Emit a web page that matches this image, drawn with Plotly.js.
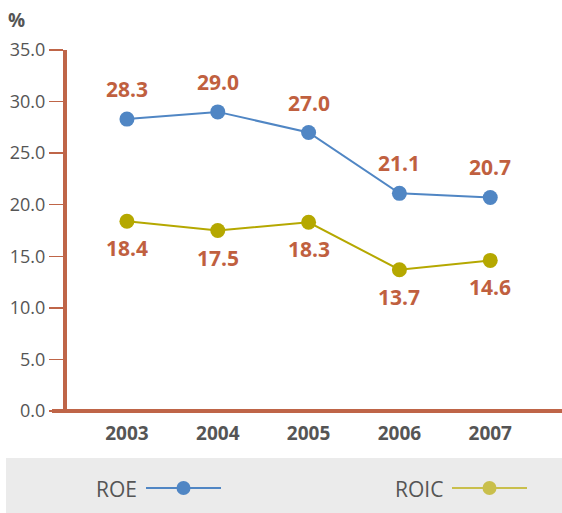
<!DOCTYPE html>
<html><head><meta charset="utf-8">
<script src="https://cdn.plot.ly/plotly-3.0.1.min.js"></script>
<style>html,body{margin:0;padding:0;background:#fff;}#chart{width:562px;height:513px;}</style>
</head><body><div id="chart"></div>
<script>
const years = ['2003','2004','2005','2006','2007'];
const roe = [28.3, 29.0, 27.0, 21.1, 20.7];
const roic = [18.4, 17.5, 18.3, 13.7, 14.6];
const yTicks = [0,5,10,15,20,25,30,35];
const yTickLabels = ['0.0','5.0','10.0','15.0','20.0','25.0','30.0','35.0'];

const axisColor = '#bf6548';
const labelColor = '#c0603f';
const roeColor = '#5086c4';
const roicColor = '#b5a800';
const font = '"Open Sans", "Noto Sans", sans-serif';

const W = 562, H = 513;
const ml = 67, mr = 0, mt = 50, mb = 102;
const pw = W - ml - mr, ph = H - mt - mb;
const px = v => (v - ml) / pw;            // pixel x -> paper
const py = v => (H - mb - v) / ph;        // pixel y -> paper

const traces = [
  {x: years, y: roe, type: 'scatter', mode: 'lines+markers', name: 'ROE',
   line: {color: roeColor, width: 2}, marker: {color: roeColor, size: 15}, showlegend: false, cliponaxis: false},
  {x: years, y: roic, type: 'scatter', mode: 'lines+markers', name: 'ROIC',
   line: {color: roicColor, width: 2}, marker: {color: roicColor, size: 15}, showlegend: false, cliponaxis: false}
];

const annotations = [];
years.forEach((yr, i) => {
  annotations.push({x: i, y: roe[i], xref: 'x', yref: 'y', text: '<b>' + roe[i].toFixed(1) + '</b>', showarrow: false, yshift: 30,
    font: {family: font, size: 21, color: labelColor}});
  annotations.push({x: i, y: roic[i], xref: 'x', yref: 'y', text: '<b>' + roic[i].toFixed(1) + '</b>', showarrow: false, yshift: -27,
    font: {family: font, size: 21, color: labelColor}});
});
annotations.push({x: px(6), y: py(20), xref: 'paper', yref: 'paper', text: '<b>%</b>', showarrow: false,
  xanchor: 'left', yanchor: 'middle', font: {family: font, size: 19, color: '#555'}});

const legendItems = [
  {name: 'ROE', color: roeColor, textRight: 139, lineL: 146, lineR: 221},
  {name: 'ROIC', color: '#c9bf4c', textRight: 445, lineL: 452, lineR: 527}
];
const shapes = [
  {type: 'rect', xref: 'paper', yref: 'paper', x0: px(6), x1: px(562), y0: py(458), y1: py(513),
   fillcolor: '#ebebeb', line: {width: 0}, layer: 'below'},
  {type: 'line', xref: 'paper', yref: 'paper', x0: px(52), x1: px(562), y0: py(411), y1: py(411),
   line: {color: axisColor, width: 4}}
];
legendItems.forEach(it => {
  shapes.push({type: 'line', xref: 'paper', yref: 'paper', x0: px(it.lineL), x1: px(it.lineR), y0: py(488), y1: py(488),
    line: {color: it.color, width: 2}});
  const cx = (it.lineL + it.lineR) / 2;
  shapes.push({type: 'circle', xref: 'paper', yref: 'paper', x0: px(cx - 7), x1: px(cx + 7), y0: py(481), y1: py(495),
    fillcolor: it.color, line: {width: 0}});
  annotations.push({x: px(it.textRight), y: py(489), xref: 'paper', yref: 'paper', text: it.name, showarrow: false,
    xanchor: 'right', yanchor: 'middle', font: {family: font, size: 21, color: '#555'}});
});

const layout = {
  width: W, height: H,
  margin: {l: ml, r: mr, t: mt, b: mb, pad: 0},
  paper_bgcolor: '#fff', plot_bgcolor: '#fff',
  showlegend: false,
  xaxis: {type: 'category', range: [-0.66, 4.79], showgrid: false, zeroline: false, showline: false,
    ticks: '', tickfont: {family: font, size: 19, color: '#555', weight: 'bold'}, ticklabelstandoff: 9, fixedrange: true},
  yaxis: {range: [0, 35], tickvals: yTicks, ticktext: yTickLabels, showgrid: false, zeroline: false,
    showline: true, linecolor: axisColor, linewidth: 4, ticks: 'outside', ticklen: 14, tickwidth: 1.5, tickcolor: axisColor,
    tickfont: {family: font, size: 18, color: '#555'}, ticklabelstandoff: 0, fixedrange: true},
  annotations: annotations,
  shapes: shapes
};
Plotly.newPlot('chart', traces, layout, {displayModeBar: false, staticPlot: true});
</script>
</body></html>
